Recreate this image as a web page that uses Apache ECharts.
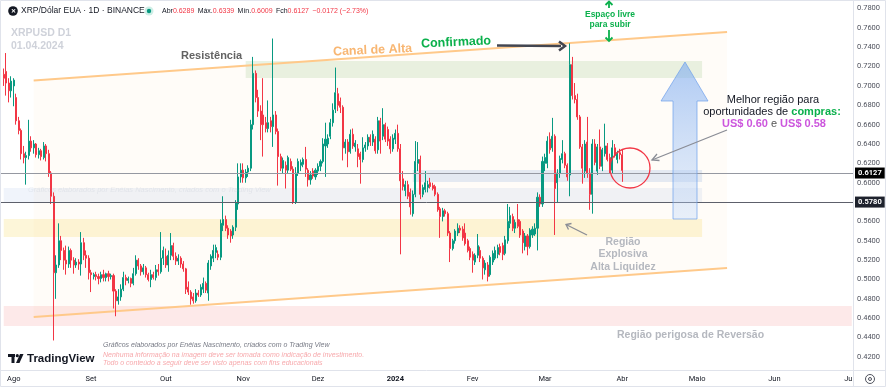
<!DOCTYPE html>
<html><head><meta charset="utf-8">
<script src="https://cdn.jsdelivr.net/npm/echarts@6/dist/echarts.min.js"></script>
<style>html,body{margin:0;padding:0;background:#fff}#c{width:886px;height:387px}</style>
</head><body><div id="c"></div>
<script>
// ---------- DATA ----------
const startDate = '2023-07-27';   // first category (empty day before first candle)
const dayCount = 342;             // categories up to 2024-07-02
const monthLabels = {'01':'2024','02':'Fev','03':'Mar','04':'Abr','05':'Maio','06':'Jun','07':'Jul','08':'Ago','09':'Set','10':'Out','11':'Nov','12':'Dez'};
const priceTicks = {min:0.40, max:0.7888, step:0.02};
// daily candles [open, high, low, close], starting 2023-07-28
const candles = [
// Jul 28-31
[0.712,0.718,0.700,0.708],[0.715,0.734,0.690,0.703],[0.703,0.708,0.683,0.695],[0.695,0.710,0.688,0.705],
// Aug
[0.700,0.708,0.679,0.706],[0.688,0.692,0.660,0.664],[0.664,0.668,0.650,0.654],[0.654,0.656,0.624,0.630],
[0.630,0.638,0.620,0.626],[0.626,0.632,0.598,0.628],[0.628,0.665,0.624,0.643],[0.643,0.648,0.632,0.636],
[0.636,0.644,0.630,0.640],[0.640,0.641,0.626,0.629],[0.629,0.636,0.625,0.633],[0.633,0.635,0.623,0.627],
[0.626,0.642,0.624,0.638],[0.638,0.640,0.622,0.630],[0.630,0.634,0.606,0.610],[0.610,0.612,0.578,0.586],
[0.586,0.590,0.437,0.507],[0.507,0.525,0.480,0.515],[0.515,0.558,0.512,0.540],[0.540,0.545,0.520,0.530],
[0.530,0.533,0.510,0.520],[0.520,0.535,0.505,0.516],[0.516,0.534,0.512,0.530],[0.530,0.532,0.512,0.520],
[0.520,0.523,0.506,0.515],[0.515,0.522,0.512,0.518],[0.518,0.521,0.510,0.516],[0.516,0.549,0.504,0.538],
[0.538,0.543,0.520,0.525],[0.525,0.530,0.512,0.522],[0.522,0.525,0.500,0.507],
// Sep
[0.507,0.510,0.487,0.505],[0.503,0.507,0.500,0.505],[0.505,0.508,0.499,0.503],[0.503,0.506,0.495,0.501],
[0.501,0.508,0.497,0.505],[0.505,0.510,0.498,0.502],[0.502,0.507,0.498,0.506],[0.506,0.509,0.498,0.503],
[0.503,0.506,0.500,0.504],[0.504,0.506,0.470,0.488],[0.488,0.490,0.462,0.478],[0.478,0.490,0.474,0.482],
[0.482,0.495,0.478,0.490],[0.490,0.508,0.488,0.502],[0.502,0.505,0.494,0.499],[0.499,0.503,0.496,0.501],
[0.501,0.502,0.492,0.496],[0.496,0.512,0.494,0.506],[0.506,0.525,0.504,0.520],[0.520,0.522,0.510,0.514],
[0.514,0.516,0.504,0.508],[0.508,0.516,0.505,0.512],[0.512,0.514,0.502,0.505],[0.505,0.507,0.498,0.500],
[0.500,0.510,0.492,0.505],[0.505,0.508,0.500,0.502],[0.502,0.515,0.499,0.510],[0.510,0.516,0.504,0.508],
[0.508,0.549,0.506,0.522],[0.522,0.534,0.515,0.530],
// Oct
[0.524,0.532,0.512,0.515],[0.515,0.530,0.508,0.525],[0.525,0.548,0.520,0.535],[0.535,0.538,0.520,0.524],
[0.524,0.528,0.515,0.519],[0.519,0.526,0.515,0.522],[0.522,0.524,0.512,0.516],[0.516,0.519,0.508,0.511],
[0.511,0.512,0.485,0.490],[0.492,0.498,0.484,0.487],[0.487,0.489,0.474,0.480],[0.482,0.486,0.475,0.478],
[0.478,0.490,0.476,0.486],[0.486,0.489,0.482,0.484],[0.484,0.495,0.482,0.492],[0.490,0.502,0.486,0.496],
[0.496,0.498,0.486,0.489],[0.486,0.520,0.478,0.517],[0.514,0.526,0.510,0.524],[0.522,0.536,0.518,0.530],
[0.528,0.536,0.522,0.533],[0.526,0.530,0.520,0.523],[0.523,0.562,0.520,0.558],[0.556,0.586,0.550,0.562],
[0.562,0.566,0.550,0.553],[0.553,0.556,0.542,0.546],[0.550,0.552,0.538,0.545],[0.546,0.556,0.542,0.554],
[0.554,0.582,0.550,0.579],[0.578,0.620,0.572,0.606],[0.606,0.620,0.600,0.613],
// Nov
[0.613,0.620,0.600,0.605],[0.605,0.614,0.600,0.611],[0.611,0.618,0.606,0.615],[0.615,0.665,0.612,0.660],
[0.660,0.730,0.655,0.713],[0.713,0.716,0.683,0.688],[0.688,0.696,0.668,0.674],[0.674,0.680,0.644,0.660],
[0.670,0.708,0.627,0.660],[0.662,0.668,0.652,0.656],[0.656,0.685,0.652,0.662],[0.664,0.668,0.652,0.658],
[0.658,0.749,0.637,0.670],[0.670,0.674,0.650,0.653],[0.653,0.656,0.597,0.627],[0.627,0.630,0.612,0.615],
[0.615,0.626,0.610,0.623],[0.618,0.622,0.594,0.613],[0.613,0.628,0.610,0.626],[0.622,0.625,0.612,0.614],
[0.614,0.617,0.578,0.580],[0.580,0.616,0.578,0.610],[0.610,0.625,0.607,0.622],[0.618,0.624,0.612,0.621],
[0.619,0.626,0.616,0.624],[0.624,0.637,0.606,0.614],[0.613,0.615,0.596,0.603],[0.603,0.612,0.598,0.608],
[0.612,0.615,0.604,0.607],[0.606,0.615,0.603,0.613],
// Dec
[0.612,0.620,0.608,0.617],[0.617,0.624,0.612,0.622],[0.622,0.646,0.620,0.640],[0.638,0.662,0.606,0.645],
[0.640,0.650,0.636,0.646],[0.648,0.666,0.645,0.662],[0.662,0.682,0.658,0.675],[0.676,0.719,0.672,0.693],
[0.692,0.698,0.674,0.680],[0.684,0.688,0.672,0.678],[0.678,0.680,0.623,0.636],[0.636,0.645,0.630,0.642],
[0.642,0.645,0.616,0.632],[0.632,0.655,0.630,0.650],[0.650,0.656,0.635,0.638],[0.637,0.644,0.632,0.641],
[0.635,0.640,0.616,0.627],[0.630,0.632,0.599,0.624],[0.624,0.647,0.621,0.636],[0.636,0.642,0.632,0.639],
[0.638,0.650,0.634,0.647],[0.647,0.650,0.638,0.642],[0.642,0.654,0.638,0.650],[0.645,0.648,0.630,0.633],
[0.634,0.668,0.630,0.664],[0.664,0.667,0.630,0.643],[0.648,0.677,0.644,0.660],[0.660,0.662,0.642,0.645],
[0.655,0.658,0.638,0.643],[0.645,0.648,0.630,0.635],[0.635,0.650,0.632,0.646],
// Jan 2024
[0.645,0.655,0.640,0.651],[0.651,0.660,0.632,0.635],[0.635,0.640,0.526,0.602],[0.604,0.612,0.592,0.596],
[0.592,0.602,0.586,0.598],[0.598,0.602,0.583,0.586],[0.590,0.594,0.567,0.575],[0.568,0.592,0.565,0.588],
[0.588,0.643,0.585,0.622],[0.620,0.642,0.612,0.624],[0.624,0.628,0.583,0.588],[0.588,0.598,0.585,0.595],
[0.593,0.612,0.590,0.600],[0.595,0.602,0.590,0.598],[0.600,0.605,0.594,0.596],[0.597,0.600,0.592,0.594],
[0.596,0.598,0.586,0.588],[0.588,0.590,0.570,0.572],[0.573,0.575,0.543,0.565],[0.565,0.574,0.560,0.571],
[0.571,0.573,0.565,0.568],[0.568,0.570,0.545,0.548],[0.548,0.550,0.518,0.532],[0.532,0.542,0.530,0.540],
[0.540,0.552,0.537,0.550],[0.548,0.558,0.545,0.553],[0.553,0.556,0.548,0.551],[0.552,0.555,0.540,0.543],
[0.548,0.558,0.535,0.537],[0.540,0.542,0.528,0.530],[0.532,0.534,0.520,0.523],
// Feb
[0.526,0.529,0.507,0.520],[0.518,0.527,0.515,0.525],[0.525,0.547,0.522,0.535],[0.530,0.534,0.518,0.522],
[0.522,0.524,0.500,0.512],[0.510,0.520,0.505,0.517],[0.515,0.518,0.498,0.503],[0.505,0.525,0.503,0.523],
[0.518,0.530,0.515,0.527],[0.522,0.534,0.520,0.530],[0.526,0.536,0.522,0.533],[0.534,0.537,0.525,0.528],
[0.535,0.538,0.520,0.526],[0.527,0.545,0.525,0.541],[0.540,0.578,0.537,0.560],[0.558,0.575,0.553,0.566],
[0.565,0.568,0.550,0.553],[0.553,0.562,0.548,0.559],[0.562,0.578,0.553,0.555],[0.560,0.562,0.543,0.546],
[0.550,0.552,0.527,0.538],[0.534,0.548,0.530,0.545],[0.545,0.547,0.525,0.534],[0.534,0.553,0.532,0.551],
[0.546,0.555,0.543,0.552],[0.547,0.558,0.545,0.553],[0.553,0.590,0.530,0.585],[0.585,0.588,0.575,0.578],
[0.578,0.627,0.575,0.622],
// Mar
[0.620,0.630,0.612,0.626],[0.620,0.648,0.615,0.643],[0.645,0.652,0.630,0.634],[0.636,0.667,0.632,0.648],
[0.648,0.650,0.546,0.594],[0.600,0.614,0.579,0.610],[0.610,0.628,0.605,0.625],[0.624,0.644,0.620,0.630],
[0.630,0.632,0.615,0.618],[0.618,0.620,0.602,0.606],[0.608,0.744,0.586,0.722],[0.722,0.730,0.686,0.690],
[0.690,0.703,0.682,0.686],[0.686,0.692,0.665,0.668],[0.668,0.670,0.635,0.637],[0.637,0.640,0.599,0.615],
[0.612,0.644,0.605,0.640],[0.642,0.668,0.605,0.610],[0.610,0.615,0.572,0.588],[0.588,0.645,0.568,0.640],
[0.640,0.645,0.618,0.621],[0.612,0.640,0.608,0.637],[0.637,0.655,0.614,0.617],[0.617,0.636,0.612,0.634],
[0.630,0.661,0.627,0.638],[0.638,0.641,0.622,0.624],[0.626,0.630,0.610,0.613],[0.613,0.644,0.610,0.636],
[0.636,0.640,0.626,0.628],[0.624,0.633,0.620,0.631],[0.631,0.635,0.624,0.629],
// Apr 1
[0.6289,0.6339,0.6009,0.6127]
];
const lastPrice = 0.6127;
const supportLine = 0.5780;
const channelTop = [['2023-08-09',0.7056],['2024-05-13',0.7557]];
const channelBottom = [['2023-08-09',0.4612],['2024-05-13',0.5119]];
const zones = [ // [fromDate, toDate, low, high, color]
  ['2023-07-28','2024-05-03',0.5790,0.5946,'#f0f4fb'],
  ['2024-01-08','2024-05-03',0.6007,0.6131,'#e3ecf8'],
  ['2023-07-28','2024-05-03',0.5439,0.5625,'#fdf6d9'],
  ['2023-11-02','2024-05-03',0.7082,0.7258,'#e9f3e5'],
  ['2023-07-28','2024-07-02',0.4520,0.4726,'#fde9e9']
];

// ---------- BUILD ----------
const cats = [];
const [sy,sm,sd] = startDate.split('-').map(Number);
for (let i=0;i<dayCount;i++){ cats.push(new Date(Date.UTC(sy,sm-1,sd)+i*86400000).toISOString().slice(0,10)); }
const seriesData = [['-','-','-','-']].concat(candles.map(r=>[r[0],r[3],r[2],r[1]]));
const ci = d => { const i = cats.indexOf(d); return i < 0 ? cats.length-1 : i; };

const UP='#089981', DOWN='#f23645';
const F='Liberation Sans, Arial, sans-serif';

const graphics = [
    {type:'rect',shape:{x:0.5,y:0.5,width:885,height:386},style:{fill:'none',stroke:'#e0e3eb'}},
    {type:'line',shape:{x1:853.5,y1:370,x2:853.5,y2:387},style:{stroke:'#e0e3eb'}},
    {type:'line',shape:{x1:853,y1:370.5,x2:886,y2:370.5},style:{stroke:'#e0e3eb'}},
    // header
    {type:'circle',shape:{cx:13,cy:11,r:4.8},style:{fill:'#131722'}},
    {type:'text',style:{text:'✕',x:13,y:11.3,align:'center',verticalAlign:'middle',font:'bold 6px '+F,fill:'#fff'}},
    {type:'text',style:{text:'XRP/Dólar EUA · 1D · BINANCE',x:21,y:11,verticalAlign:'middle',font:'8.5px '+F,fill:'#131722'}},
    {type:'circle',shape:{cx:149,cy:11,r:4.5},style:{fill:'#cdeee6'}},
    {type:'circle',shape:{cx:149,cy:11,r:2.2},style:{fill:'#089981'}},
    {type:'text',style:{x:162,y:11,verticalAlign:'middle',
      text:'{g|Abr}{r|0.6289} {g|Máx.}{r|0.6339} {g|Mín.}{r|0.6009} {g|Fch}{r|0.6127} {r|−0.0172 (−2.73%)}',
      rich:{g:{font:'7px '+F,fill:'#131722'},r:{font:'7px '+F,fill:'#f23645'}}}},
    {type:'text',style:{text:'XRPUSD D1',x:11,y:33,verticalAlign:'middle',font:'bold 10.5px '+F,fill:'#cfd2da'}},
    {type:'text',style:{text:'01.04.2024',x:11,y:46,verticalAlign:'middle',font:'bold 10.5px '+F,fill:'#cfd2da'}},
    // faint watermark in band
    {type:'text',style:{text:'Gráficos elaborados por Enéias Nascimento, criados com o Trading View',x:28,y:190,verticalAlign:'middle',font:'italic 7.5px '+F,fill:'rgba(150,160,180,0.16)'}},
    // annotations
    {type:'text',style:{text:'Resistência',x:181,y:56,verticalAlign:'middle',font:'bold 11px '+F,fill:'#626262'}},
    {type:'text',x:333,y:52,rotation:0.045,style:{text:'Canal de Alta',x:0,y:0,verticalAlign:'middle',font:'bold 12.5px '+F,fill:'#f8b672'}},
    {type:'text',x:421,y:44,rotation:0.045,style:{text:'Confirmado',x:0,y:0,verticalAlign:'middle',font:'bold 12.5px '+F,fill:'#0bb04c'}},
    {type:'line',shape:{x1:497,y1:45.5,x2:561,y2:46},style:{stroke:'#434651',lineWidth:2.5}},
    {type:'polyline',shape:{points:[[559,41.5],[565,46],[559,50.5]]},style:{stroke:'#434651',lineWidth:2.5,fill:'none'}},
    {type:'text',style:{text:'Espaço livre',x:610,y:15,align:'center',verticalAlign:'middle',font:'bold 8.5px '+F,fill:'#0bb04c'}},
    {type:'text',style:{text:'para subir',x:610,y:25,align:'center',verticalAlign:'middle',font:'bold 8.5px '+F,fill:'#0bb04c'}},
    {type:'line',shape:{x1:609,y1:8,x2:609,y2:2},style:{stroke:'#0bb04c',lineWidth:1.8}},
    {type:'polyline',shape:{points:[[605.5,5],[609,1.5],[612.5,5]]},style:{stroke:'#0bb04c',lineWidth:1.8,fill:'none'}},
    {type:'line',shape:{x1:609,y1:30,x2:609,y2:41},style:{stroke:'#0bb04c',lineWidth:1.8}},
    {type:'polyline',shape:{points:[[605.5,37.5],[609,41],[612.5,37.5]]},style:{stroke:'#0bb04c',lineWidth:1.8,fill:'none'}},
    // big blue arrow
    {type:'polygon',shape:{points:[[685,62],[708,101],[697,101],[697,219],[673,219],[673,101],[661,101]]},
     style:{fill:new echarts.graphic.LinearGradient(0,0,0,1,[{offset:0,color:'rgba(120,168,240,0.6)'},{offset:1,color:'rgba(190,215,250,0.35)'}]),stroke:'rgba(110,160,235,0.7)',lineWidth:1}},
    {type:'text',style:{text:'Melhor região para',x:773,y:100,align:'center',verticalAlign:'middle',font:'11px '+F,fill:'#131722'}},
    {type:'text',style:{x:772,y:112,align:'center',verticalAlign:'middle',text:'{n|oportunidades de }{g|compras:}',
      rich:{n:{font:'11px '+F,fill:'#131722'},g:{font:'bold 11px '+F,fill:'#0bb04c'}}}},
    {type:'text',style:{x:774,y:124,align:'center',verticalAlign:'middle',text:'{p|US$ 0.60}{n| e }{p|US$ 0.58}',
      rich:{n:{font:'11px '+F,fill:'#555'},p:{font:'bold 11px '+F,fill:'#cc55dd'}}}},
    {type:'line',shape:{x1:727,y1:130,x2:652,y2:160},style:{stroke:'#8a8d96',lineWidth:1.3}},
    {type:'polyline',shape:{points:[[657,154],[652,160],[659.5,160.5]]},style:{stroke:'#8a8d96',lineWidth:1.3,fill:'none'}},
    {type:'circle',shape:{cx:630,cy:168,r:20},style:{fill:'none',stroke:'#f23645',lineWidth:1.3}},
    // explosive region
    {type:'line',shape:{x1:587,y1:235,x2:566,y2:224.5},style:{stroke:'#8a8d96',lineWidth:1.3}},
    {type:'polyline',shape:{points:[[568.5,229.5],[566,224.5],[571.5,223.5]]},style:{stroke:'#8a8d96',lineWidth:1.3,fill:'none'}},
    {type:'text',style:{text:'Região',x:623,y:242,align:'center',verticalAlign:'middle',font:'bold 10.5px '+F,fill:'#b5b8bf'}},
    {type:'text',style:{text:'Explosiva',x:623,y:254.5,align:'center',verticalAlign:'middle',font:'bold 10.5px '+F,fill:'#b5b8bf'}},
    {type:'text',style:{text:'Alta Liquidez',x:623,y:267,align:'center',verticalAlign:'middle',font:'bold 10.5px '+F,fill:'#b5b8bf'}},
    {type:'text',style:{text:'Região perigosa de Reversão',x:617,y:335,verticalAlign:'middle',font:'bold 10.5px '+F,fill:'#b5b8bf'}},
    // footer
    {type:'text',style:{text:'Gráficos elaborados por Enéias Nascimento, criados com o Trading View',x:103,y:345,verticalAlign:'middle',font:'italic 7px '+F,fill:'#787b86'}},
    {type:'text',style:{text:'Nenhuma informação na imagem deve ser tomada como indicação de investimento.',x:103,y:355,verticalAlign:'middle',font:'italic 7px '+F,fill:'#f7a9ac'}},
    {type:'text',style:{text:'Todo o conteúdo a seguir deve ser visto apenas com fins educacionais',x:103,y:363,verticalAlign:'middle',font:'italic 7px '+F,fill:'#f7a9ac'}},
    {type:'rect',shape:{x:8,y:354,width:7,height:3},style:{fill:'#131722'}},
    {type:'rect',shape:{x:11.5,y:354,width:3,height:9},style:{fill:'#131722'}},
    {type:'circle',shape:{cx:17.3,cy:355.7,r:1.6},style:{fill:'#131722'}},
    {type:'polygon',shape:{points:[[20,354],[23.5,354],[19.5,363],[16,363]]},style:{fill:'#131722'}},
    {type:'text',style:{text:'TradingView',x:27,y:359,verticalAlign:'middle',font:'bold 11.5px '+F,fill:'#131722'}},
    // settings icon
    {type:'circle',shape:{cx:870,cy:379,r:4.5},style:{fill:'none',stroke:'#50535e',lineWidth:1}},
    {type:'circle',shape:{cx:870,cy:379,r:1.5},style:{fill:'none',stroke:'#50535e',lineWidth:1}}
];
graphics.forEach(g=>{g.z=100;});

const chart = echarts.init(document.getElementById('c'));
chart.setOption({
  animation:false,
  backgroundColor:'#ffffff',
  grid:{left:0,right:33,top:0,bottom:10.74,containLabel:false},
  xAxis:{type:'category',data:cats,boundaryGap:true,offset:-6,
    axisLine:{show:true,lineStyle:{color:'#e0e3eb'}},axisTick:{show:false},splitLine:{show:false},
    axisLabel:{interval:(i,v)=>v.slice(8)==='01',margin:5,fontSize:7.5,fontFamily:'Roboto',color:'#131722',
      formatter:v=>{const m=v.slice(5,7);return m==='01'?'{b|'+monthLabels[m]+'}':monthLabels[m];},
      rich:{b:{fontWeight:'bold',fontSize:7.5,fontFamily:'Roboto',color:'#131722'}}}},
  yAxis:{type:'value',position:'right',min:priceTicks.min,max:priceTicks.max,interval:priceTicks.step,scale:true,
    axisLine:{show:true,lineStyle:{color:'#e0e3eb'}},axisTick:{show:false},splitLine:{show:false},
    axisLabel:{margin:4,fontSize:7.5,fontFamily:'Roboto',color:'#50535e',
      formatter:v=>(v<0.41||v>0.785)?'':v.toFixed(4)}},
  series:[
    {type:'custom',z:1,silent:true,data:[[0,0.5]],clip:true,
     renderItem:(params,api)=>{
       const p=pt=>api.coord([ci(pt[0]),pt[1]]);
       const ch=[];
       zones.forEach(z=>{const a=p([z[0],z[3]]),b=p([z[1],z[2]]);
         ch.push({type:'rect',shape:{x:a[0],y:a[1],width:b[0]-a[0],height:b[1]-a[1]},style:{fill:z[4]}});});
       const t0=p(channelTop[0]),t1=p(channelTop[1]),b0=p(channelBottom[0]),b1=p(channelBottom[1]);
       ch.push({type:'polygon',shape:{points:[t0,t1,b1,b0]},style:{fill:'rgba(255,170,80,0.04)'}});
       ch.push({type:'line',shape:{x1:t0[0],y1:t0[1],x2:t1[0],y2:t1[1]},style:{stroke:'#ffc98a',lineWidth:2}});
       ch.push({type:'line',shape:{x1:b0[0],y1:b0[1],x2:b1[0],y2:b1[1]},style:{stroke:'#ffc98a',lineWidth:2}});
       return {type:'group',children:ch};
     }},
    {type:'candlestick',z:3,data:seriesData,barWidth:'62%',
     itemStyle:{color:UP,color0:DOWN,borderColor:UP,borderColor0:DOWN,borderWidth:1},
     markLine:{silent:true,symbol:['none','none'],animation:false,
       data:[
        {yAxis:lastPrice,lineStyle:{color:'#9598a1',width:1,type:'solid'},
         label:{show:true,position:'end',distance:2,formatter:lastPrice.toFixed(4),backgroundColor:'#000',color:'#fff',padding:[2,3,1,3],fontSize:7.5,fontFamily:'Roboto',fontWeight:'bold'}},
        {yAxis:supportLine,lineStyle:{color:'#5d606b',width:1,type:'solid'},
         label:{show:true,position:'end',distance:2,formatter:supportLine.toFixed(4),backgroundColor:'#1e222d',color:'#fff',padding:[2,3,1,3],fontSize:7.5,fontFamily:'Roboto',fontWeight:'bold'}}
       ]}}
  ],
  graphic:graphics
});
</script></body></html>
